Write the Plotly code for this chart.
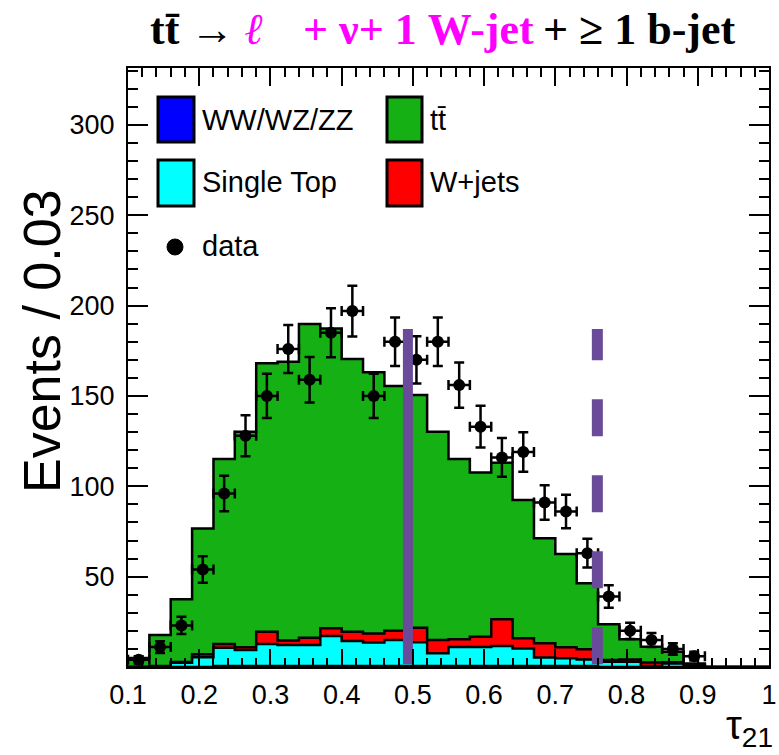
import numpy as np
import plotly.graph_objects as go

# ---------------- data ----------------
bin_edges = [round(0.1 + 0.03 * i, 3) for i in range(31)]
diboson = [0, 0, 0, 0, 0.5, 0.5, 0.5, 0.5, 0.5, 0.5, 0.5, 0.5, 0.5, 0.5, 0.5,
           0.5, 0.5, 0.5, 0.5, 0.5, 0.5, 0.5, 0, 0, 0, 0, 0, 0, 0, 0]
single_top = [0, 0, 2.4, 5.4, 10.2, 8.9, 12.2, 11.7, 11.7, 16.7, 13.9, 13.0, 14.4, 13.2, 7.1,
              10.5, 10.5, 11.1, 9.8, 4.7, 4.3, 3.7, 2.9, 2.9, 0.5, 2.0, 0.5, 0, 0, 0]
wjets = [0, 0.5, 0.4, 1.6, 2.0, 1.5, 6.8, 2.4, 4.0, 4.2, 5.1, 5.1, 5.2, 8.0, 7.3,
         4.4, 5.8, 14.8, 5.6, 7.9, 6.1, 5.6, 1.0, 1.3, 2.0, 0.6, 0.3, 0, 0, 0]
ttbar = [5.0, 17.2, 34.7, 69.7, 102.4, 119.3, 148.6, 154.4, 173.6, 166.0, 150.9, 144.5, 135.4, 128.8, 115.3,
         99.7, 90.9, 86.7, 76.5, 58.1, 51.6, 36.5, 19.7, 11.1, 8.7, 5.9, 1.2, 0, 0, 0]
data_centers = [0.115, 0.145, 0.175, 0.205, 0.235, 0.265, 0.295, 0.325, 0.355, 0.385, 0.415, 0.445, 0.475,
                0.505, 0.535, 0.565, 0.595, 0.625, 0.655, 0.685, 0.715, 0.745, 0.775, 0.805, 0.835, 0.865, 0.895]
data_counts = [4, 11, 23, 54, 96, 128, 150, 176, 159, 185, 197, 150, 180,
               170, 180, 156, 133, 116, 119, 91, 86, 63, 39, 20, 15, 10, 6]
cut_solid = 0.493
cut_dashed = 0.759
cut_y = [1.5, 187]
x_ticks = [0.1, 0.2, 0.3, 0.4, 0.5, 0.6, 0.7, 0.8, 0.9, 1.0]
x_ticktext = ["0.1", "0.2", "0.3", "0.4", "0.5", "0.6", "0.7", "0.8", "0.9", "1"]
y_ticks = [50, 100, 150, 200, 250, 300]

# ---------------- colours ----------------
C_BLUE = "#0000ff"
C_CYAN = "#00ffff"
C_RED = "#ff0000"
C_GREEN = "#14b014"
C_PURPLE = "#6a4b9a"

W, H = 779, 755
L, R, T, B = 128, 10, 68, 88
PW, PH = W - L - R, H - T - B


def px(xp):
    return (xp - L) / PW


def py(yp):
    return (H - B - yp) / PH


fig = go.Figure()

lay1 = np.array(diboson)
lay2 = lay1 + np.array(single_top)
lay3 = lay2 + np.array(wjets)
lay4 = lay3 + np.array(ttbar)

for vals, col in [(lay4, C_GREEN), (lay3, C_RED), (lay2, C_CYAN), (lay1, C_BLUE)]:
    yv = list(vals) + [vals[-1]]
    fig.add_trace(go.Scatter(
        x=bin_edges, y=yv, mode="lines", line=dict(shape="hv", color="black", width=2.5),
        fill="tozeroy", fillcolor=col, showlegend=False, hoverinfo="skip"))

fig.add_trace(go.Scatter(
    x=data_centers, y=data_counts, mode="markers",
    marker=dict(color="black", size=12),
    error_y=dict(type="data", array=np.sqrt(data_counts), color="black", thickness=2.5, width=5),
    error_x=dict(type="constant", value=0.015, color="black", thickness=2.5, width=5),
    showlegend=False))

fig.add_trace(go.Scatter(x=[cut_solid, cut_solid], y=cut_y, mode="lines",
                         line=dict(color=C_PURPLE, width=10), showlegend=False))
fig.add_trace(go.Scatter(x=[cut_dashed, cut_dashed], y=cut_y, mode="lines",
                         line=dict(color=C_PURPLE, width=11, dash="37px,39px"), showlegend=False))

# ---------------- manual legend ----------------
shapes = []
annotations = []
leg = [
    (158, 97, 194, 142, C_BLUE, "WW/WZ/ZZ", 200, 120),
    (387, 97, 422, 142, C_GREEN, "tt\u0304", 428, 120),
    (158, 160, 194, 206, C_CYAN, "Single Top", 200, 182),
    (387, 160, 422, 206, C_RED, "W+jets", 428, 182),
]
for x0, y0, x1, y1, col, txt, tx, ty in leg:
    shapes.append(dict(type="rect", xref="paper", yref="paper", x0=px(x0), x1=px(x1),
                       y0=py(y1), y1=py(y0), fillcolor=col, line=dict(color="black", width=3)))
    annotations.append(dict(text=txt, xref="paper", yref="paper", x=px(tx), y=py(ty),
                            xanchor="left", yanchor="middle", showarrow=False,
                            font=dict(family="Liberation Sans", size=29, color="black")))
shapes.append(dict(type="circle", xref="paper", yref="paper", x0=px(167), x1=px(183),
                   y0=py(255), y1=py(239), fillcolor="black", line=dict(color="black", width=1)))
annotations.append(dict(text="data", xref="paper", yref="paper", x=px(200), y=py(246),
                        xanchor="left", yanchor="middle", showarrow=False,
                        font=dict(family="Liberation Sans", size=29, color="black")))

# ---------------- title ----------------
tfont = dict(family="Liberation Serif", size=44, color="black")
mfont = dict(family="Liberation Serif", size=44, color="#ff00ff")
title_parts = [
    ("<b>tt\u0304 \u2192</b>", 148, tfont),
    ("<b><i>\u2113</i></b>", 243, mfont),
    ("<b>+ \u03bd+ 1 W-jet</b>", 301, mfont),
    ("<b>+ \u2265 1 b-jet</b>", 541, tfont),
]
for txt, xx, f in title_parts:
    annotations.append(dict(text=txt, xref="paper", yref="paper", x=px(xx), y=py(29),
                            xanchor="left", yanchor="middle", showarrow=False, font=f))

# axis titles
annotations.append(dict(text="Events / 0.03", xref="paper", yref="paper", x=px(42), y=py(341),
                        xanchor="center", yanchor="middle", textangle=-90, showarrow=False,
                        font=dict(family="Liberation Sans", size=52, color="black")))
annotations.append(dict(text="\u03c4<sub>21</sub>", xref="paper", yref="paper", x=px(775), y=py(728),
                        xanchor="right", yanchor="middle", showarrow=False,
                        font=dict(family="Liberation Sans", size=40, color="black")))

axis_common = dict(showline=True, linecolor="black", linewidth=2, mirror="allticks",
                   ticks="inside", tickcolor="black", tickwidth=1.5, showgrid=False, zeroline=False,
                   automargin=False,
                   tickfont=dict(family="Liberation Sans", size=27, color="black"))

fig.update_layout(
    width=W, height=H, margin=dict(l=L, r=R, t=T, b=B, autoexpand=False),
    plot_bgcolor="white", paper_bgcolor="white",
    xaxis=dict(range=[0.1, 1.0], tickvals=x_ticks, ticktext=x_ticktext, ticklen=18,
               ticklabelstandoff=3,
               minor=dict(ticks="inside", ticklen=9, dtick=0.02, tick0=0.1, tickcolor="black",
                          tickwidth=1.5, showgrid=False),
               **axis_common),
    yaxis=dict(range=[0, 331.5], tickvals=y_ticks, ticklen=20, ticklabelstandoff=6,
               minor=dict(ticks="inside", ticklen=10, dtick=10, tick0=0, tickcolor="black",
                          tickwidth=1.5, showgrid=False),
               **axis_common),
    shapes=shapes, annotations=annotations, showlegend=False,
)

fig.write_html("out.html")
